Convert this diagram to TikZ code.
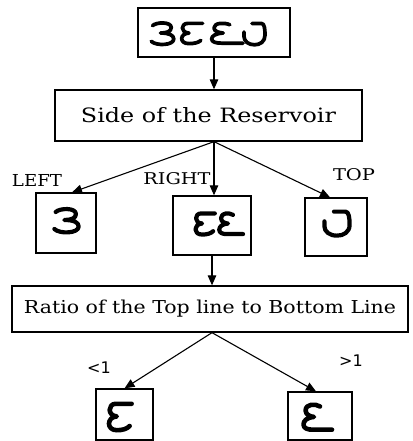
\documentclass[tikz,border=0pt]{standalone}
\usepackage{fontspec}
\setmainfont{DejaVu Serif}
\setsansfont{DejaVu Sans}
\usetikzlibrary{arrows.meta}
\tikzset{
  box/.style={draw, line width=1.3pt, inner sep=0pt, rectangle},
  arr/.style={line width=1.1pt, -{Triangle[length=10pt,width=8.5pt]}},
  lbl/.style={inner sep=0pt},
  % script letters, drawn in a unit box with y pointing down
  pics/three/.style={code={
    \draw[pic actions, line cap=round, line join=round]
      (0.1,0.16) .. controls (0.25,0.0) and (0.85,-0.02) .. (0.85,0.24)
      .. controls (0.85,0.42) and (0.65,0.48) .. (0.42,0.48)
      .. controls (0.78,0.48) and (0.95,0.58) .. (0.95,0.74)
      .. controls (0.95,1.02) and (0.25,1.05) .. (0.05,0.84);}},
  pics/epsbar/.style={code={
    \draw[pic actions, line cap=round, line join=round]
      (0.95,0.06) -- (0.38,0.06)
      .. controls (0.1,0.06) and (0.08,0.46) .. (0.42,0.48)
      .. controls (0.06,0.5) and (0.04,0.94) .. (0.42,0.94)
      .. controls (0.62,0.94) and (0.78,0.9) .. (0.88,0.8);}},
  pics/epsline/.style={code={
    \draw[pic actions, line cap=round, line join=round]
      (0.6,0.12) .. controls (0.45,0.02) and (0.12,0.02) .. (0.12,0.26)
      .. controls (0.12,0.42) and (0.3,0.47) .. (0.4,0.48)
      .. controls (0.15,0.5) and (0.05,0.62) .. (0.05,0.74)
      .. controls (0.05,0.88) and (0.2,0.92) .. (0.35,0.92) -- (1.0,0.92);}},
  pics/ups/.style={code={
    \draw[pic actions, line cap=round, line join=round]
      (0.4,0.06) -- (0.78,0.06)
      .. controls (0.9,0.06) and (0.92,0.3) .. (0.92,0.55)
      .. controls (0.92,0.82) and (0.72,0.95) .. (0.5,0.95)
      .. controls (0.25,0.95) and (0.08,0.8) .. (0.08,0.6) -- (0.08,0.42);}},
}
\begin{document}
\begin{tikzpicture}[x=1pt,y=-1pt]
\useasboundingbox[fill=white] (0,0) rectangle (412,441);

% boxes
\node[box, minimum width=152pt, minimum height=49pt] (top) at (214,32.5) {};
\node[box, minimum width=307pt, minimum height=51pt] (side) at (208.5,115.5)
  {\resizebox{255pt}{15pt}{Side of the Reservoir}};
\node[box, minimum width=60pt, minimum height=60pt] (m1) at (66,223) {};
\node[box, minimum width=78pt, minimum height=59pt] (m2) at (212,225.5) {};
\node[box, minimum width=62pt, minimum height=58pt] (m3) at (336,227) {};
\node[box, minimum width=396pt, minimum height=46pt] (ratio) at (210,309)
  {\resizebox{372pt}{13.5pt}{Ratio of the Top line to Bottom Line}};
\node[box, minimum width=57pt, minimum height=51pt] (b1) at (124.5,414.5) {};
\node[box, minimum width=64pt, minimum height=48pt] (b2) at (320,416) {};

% letters inside the boxes
\pic[xscale=25, yscale=23, line width=3.7pt] at (150,22) {three};
\pic[xscale=26, yscale=23, line width=3.7pt] at (178,22) {epsbar};
\pic[xscale=33, yscale=23, line width=3.7pt] at (210,22) {epsline};
\pic[xscale=25, yscale=24, line width=3.7pt] at (242,22) {ups};

\pic[xscale=27, yscale=25, line width=4.2pt] at (53,208) {three};
\pic[xscale=24, yscale=24, line width=4.2pt] at (192,212) {epsbar};
\pic[xscale=25, yscale=24, line width=4.2pt] at (218,212) {epsline};
\pic[xscale=30, yscale=27, line width=4.2pt] at (322,210) {ups};

\pic[xscale=28, yscale=30, line width=4.6pt] at (105,402) {epsbar};
\pic[xscale=30, yscale=29, line width=4.6pt] at (302,403) {epsline};

% connectors
\coordinate (fork) at (top.south |- side.south);
\coordinate (fork2) at (m2.south |- ratio.south);
\draw[arr] (top.south) -- (top.south |- side.north);
\draw[arr] (fork) -- ([xshift=6pt]m1.north);
\draw[arr] (fork) -- (fork |- m2.north);
\draw[arr] (fork) -- ([xshift=-6pt]m3.north);
\draw[arr] (m2.south) -- (m2.south |- ratio.north);
\draw[arr] (fork2) -- (b1.north);
\draw[arr] (fork2) -- ([xshift=-4pt]b2.north);

% branch labels
\node[lbl] (lleft) at (37,180) {\resizebox{50pt}{12pt}{LEFT}};
\node[lbl] (lright) at (177,179) {\resizebox{67pt}{12pt}{RIGHT}};
\node[lbl] (ltop) at (354,175) {\resizebox{42pt}{12pt}{TOP}};
\node[lbl] (lless) at (99,368) {\sffamily\fontsize{16pt}{16pt}\selectfont <1};
\node[lbl] (lmore) at (351,361) {\sffamily\fontsize{16pt}{16pt}\selectfont >1};
\end{tikzpicture}
\end{document}
